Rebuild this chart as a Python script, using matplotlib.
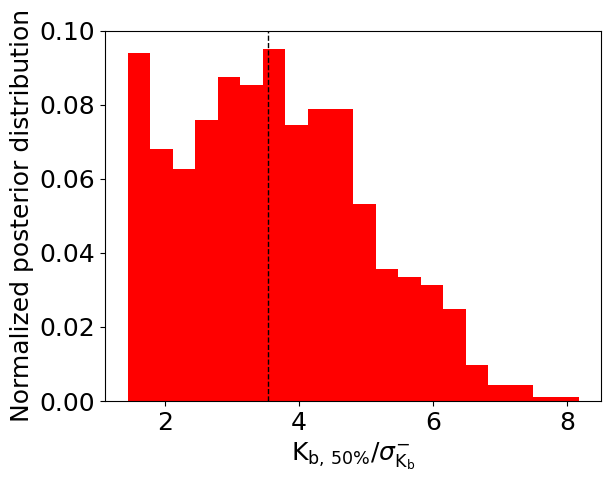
import numpy as np
import matplotlib
matplotlib.use("Agg")
import matplotlib.pyplot as plt

# bin edges and normalized heights
bin_lo = 1.436
bin_hi = 8.175
heights = [0.0941, 0.0681, 0.0627, 0.0758, 0.0876, 0.0854, 0.0951, 0.0746,
           0.0789, 0.0789, 0.0531, 0.0358, 0.0336, 0.0314, 0.0249, 0.0097,
           0.0043, 0.0043, 0.0011, 0.0011]
median_val = 3.536

edges = np.linspace(bin_lo, bin_hi, len(heights) + 1)

plt.rcParams['font.size'] = 18
fig, ax = plt.subplots(figsize=(6.14, 4.82), dpi=100)
ax.hist(edges[:-1], bins=edges, weights=heights, color='red')
ax.axvline(median_val, color='k', ls='--', lw=1)
ax.set_ylim(0, 0.1)
ax.set_xlabel(r'$\mathrm{K_{b,\,50\%}}/\sigma^{-}_{\mathrm{K_b}}$')
ax.set_ylabel('Normalized posterior distribution')
fig.subplots_adjust(left=0.171, right=0.979, top=0.936, bottom=0.168)
fig.savefig("out.png")
